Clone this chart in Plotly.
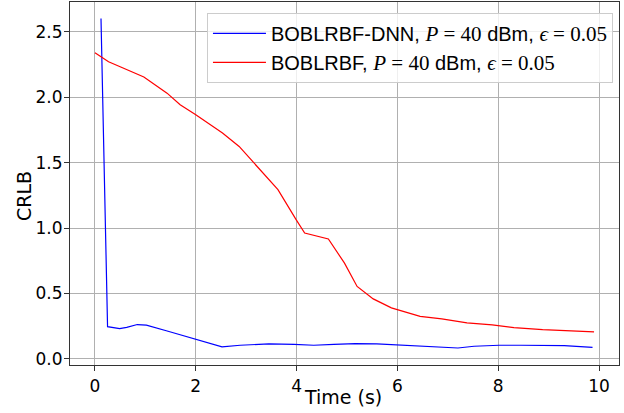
import plotly.graph_objects as go

# BOBLRBF-DNN series
t_dnn = [0.12, 0.25, 0.49, 0.63, 0.84, 1.02, 1.45, 2.0, 2.52, 2.88, 3.45, 3.95, 4.34, 4.74,
         5.16, 5.59, 6.02, 6.45, 6.88, 7.2, 7.52, 8.02, 8.45, 8.88, 9.31, 9.87]
crlb_dnn = [2.6, 0.247, 0.232, 0.242, 0.263, 0.258, 0.212, 0.148, 0.092, 0.105, 0.115, 0.112,
            0.105, 0.112, 0.117, 0.115, 0.107, 0.1, 0.092, 0.084, 0.097, 0.105, 0.105, 0.102,
            0.102, 0.089]

# BOBLRBF series
t_bo = [0.0, 0.27, 0.5, 0.97, 1.43, 1.69, 2.0, 2.53, 2.86, 3.16, 3.63, 3.99, 4.16, 4.63,
        4.95, 5.2, 5.52, 5.88, 6.45, 6.88, 7.38, 7.88, 8.31, 8.88, 9.45, 9.9]
crlb_bo = [2.339, 2.27, 2.232, 2.153, 2.03, 1.941, 1.865, 1.725, 1.623, 1.496, 1.293, 1.064,
           0.962, 0.916, 0.732, 0.554, 0.459, 0.39, 0.326, 0.306, 0.276, 0.26, 0.24, 0.224,
           0.214, 0.207]

x_ticks = [0, 2, 4, 6, 8, 10]
y_ticks = [0.0, 0.5, 1.0, 1.5, 2.0, 2.5]
y_tick_labels = ["0.0", "0.5", "1.0", "1.5", "2.0", "2.5"]

SERIF = "Liberation Serif"
def math(s):
    return f'<span style="font-family:{SERIF};font-size:21px">{s}</span>'

name_dnn = ("BOBLRBF-DNN, " + math("<i>P</i> = 40") + " dBm, "
            + math("<i>\u03f5</i> = 0.05"))
name_bo = ("BOBLRBF, " + math("<i>P</i> = 40") + " dBm, "
           + math("<i>\u03f5</i> = 0.05"))

fig = go.Figure()
fig.add_trace(go.Scatter(x=t_dnn, y=crlb_dnn, mode="lines", name=name_dnn,
                         line=dict(color="blue", width=1.2)))
fig.add_trace(go.Scatter(x=t_bo, y=crlb_bo, mode="lines", name=name_bo,
                         line=dict(color="red", width=1.2)))

axis_common = dict(showline=True, linecolor="#333333", linewidth=1.2, mirror=True,
                   ticks="outside", ticklen=5, tickwidth=1, tickcolor="#333333",
                   showgrid=True, gridcolor="#b0b0b0", gridwidth=1, zeroline=False,
                   tickfont=dict(family="DejaVu Sans", size=17, color="black"))

fig.update_layout(
    width=624, height=413,
    margin=dict(l=70, r=5, t=2, b=48, autoexpand=False),
    plot_bgcolor="white", paper_bgcolor="white",
    font=dict(family="DejaVu Sans", size=17, color="black"),
    xaxis=dict(range=[-0.495, 10.395], tickvals=x_ticks, automargin=False, **axis_common),
    yaxis=dict(range=[-0.046, 2.726], tickvals=y_ticks, ticktext=y_tick_labels,
               automargin=False, ticklabelstandoff=-2, **axis_common),
    legend=dict(x=0.989, y=0.970, xanchor="right", yanchor="top",
                bgcolor="rgba(255,255,255,0.8)", bordercolor="#cccccc", borderwidth=1,
                font=dict(family="Liberation Sans", size=20), tracegroupgap=0,
                itemwidth=53),
    showlegend=True,
    annotations=[
        dict(text="Time (s)", xref="paper", yref="paper", x=(343 - 70) / 549,
             y=(365 - 397) / 363, xanchor="center", yanchor="middle", showarrow=False,
             font=dict(family="DejaVu Sans", size=19, color="black")),
        dict(text="CRLB", xref="paper", yref="paper", x=(24 - 70) / 549,
             y=(365 - 196) / 363, xanchor="center", yanchor="middle", showarrow=False,
             textangle=-90, font=dict(family="DejaVu Sans", size=19, color="black")),
    ],
)

fig.write_html("out.html", config={"displayModeBar": False},
               post_script="document.body.style.margin='0';")
